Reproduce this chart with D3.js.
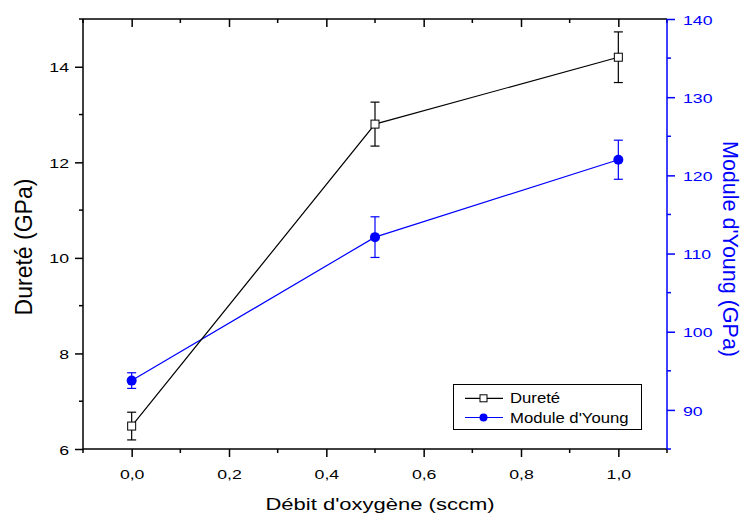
<!DOCTYPE html>
<html><head><meta charset="utf-8">
<script src="https://cdn.jsdelivr.net/npm/d3@7"></script>
<style>body{margin:0;background:#fff}svg{font-family:"Liberation Sans",Arial,sans-serif}</style>
</head><body><svg id="c" width="743" height="517"></svg>
<script>
const xValues = [0.0, 0.5, 1.0];
const durete = [6.48, 12.80, 14.20];
const dureteErr = [0.29, 0.46, 0.53];
const young = [93.75, 112.1, 122.0];
const youngErr = [1.0, 2.6, 2.5];
const xTicks = [0.0, 0.2, 0.4, 0.6, 0.8, 1.0];
const yLeftTicks = [6, 8, 10, 12, 14];
const yRightTicks = [90, 100, 110, 120, 130, 140];
const seriesNames = ["Dureté", "Module d'Young"];

const svg = d3.select("#c");
const L = 83, R = 667, T = 19, B = 449;
const blue = "#0000ff";
const FF = "Liberation Sans, Arial, sans-serif";
const SY = 0.77;
const x = d3.scaleLinear().domain([-0.1, 1.1]).range([L, R]);
const yl = d3.scaleLinear().domain([6, 15]).range([B, T]);
const yr = d3.scaleLinear().domain([85, 140]).range([B, T]);
const fmt = d => d3.format(".1f")(d).replace(".", ",");

const xMinor = d3.range(-1, 12).map(v => v / 10).filter(v => !xTicks.some(t => Math.abs(t - v) < 1e-6));
const ylMinor = [7, 9, 11, 13, 15];
const yrMinor = [85, 95, 105, 115, 125, 135];

function minor(g, vals, scale, orient, color) {
  g.selectAll("line.mn").data(vals).join("line").attr("class", "mn")
    .attr(orient === "h" ? "x1" : "y1", d => scale(d)).attr(orient === "h" ? "x2" : "y2", d => scale(d))
    .attr(orient === "h" ? "y1" : "x1", 0).attr(orient === "h" ? "y2" : "x2", orient === "h" ? 4 : (color === blue ? 4 : -4))
    .attr("stroke", color).attr("stroke-width", 1.5);
}

const gb = svg.append("g").attr("transform", `translate(0,${B})`)
  .call(d3.axisBottom(x).tickValues(xTicks).tickFormat(fmt).tickSize(8).tickSizeOuter(0));
minor(gb, xMinor, x, "h", "#000");
const gt = svg.append("g").attr("transform", `translate(0,${T})`)
  .call(d3.axisBottom(x).tickValues(xTicks).tickFormat("").tickSize(8).tickSizeOuter(0));
minor(gt, xMinor, x, "h", "#000");
const gl = svg.append("g").attr("transform", `translate(${L},0)`)
  .call(d3.axisLeft(yl).tickValues(yLeftTicks).tickFormat(d3.format("d")).tickSize(8).tickSizeOuter(0));
minor(gl, ylMinor, yl, "v", "#000");
const gr = svg.append("g").attr("transform", `translate(${R},0)`)
  .call(d3.axisRight(yr).tickValues(yRightTicks).tickFormat(d3.format("d")).tickSize(8).tickSizeOuter(0));
minor(gr, yrMinor, yr, "v", blue);

[gb, gt, gl, gr].forEach(g => {
  g.select(".domain").attr("stroke-width", 1.5);
  g.selectAll(".tick line").attr("stroke-width", 1.5);
  g.selectAll(".tick text").attr("font-size", 17.7).attr("font-family", FF).attr("dy", null).attr("fill", "#000");
});
gb.select(".domain").attr("d", `M${L},0H${R}`);
gt.select(".domain").attr("d", `M${L},0H${R}`);
gl.select(".domain").attr("d", `M0,${B}V${T}`);
gr.select(".domain").attr("d", `M0,${B}V${T}`);
gb.selectAll(".tick text").attr("y", 0).attr("x", 0).attr("transform", `translate(0,29.5) scale(1,${SY})`);
gl.selectAll(".tick text").attr("x", 0).attr("y", 0).attr("transform", `translate(-14,5) scale(1,${SY})`);
gr.selectAll(".tick text").attr("x", 0).attr("y", 0).attr("transform", `translate(16,5.2) scale(1,${SY})`);
gr.selectAll(".domain, .tick line").attr("stroke", blue);
gr.selectAll(".tick text").attr("fill", blue);

// titles
svg.append("text").attr("transform", `translate(380,510) scale(1,${SY})`).attr("text-anchor", "middle")
  .attr("font-size", 22).text("Débit d'oxygène (sccm)");
svg.append("text").attr("transform", `translate(32,247) rotate(-90)`).attr("text-anchor", "middle")
  .attr("font-size", 23).text("Dureté (GPa)");
svg.append("text").attr("transform", `translate(723,249) rotate(90)`).attr("text-anchor", "middle")
  .attr("font-size", 21.5).attr("fill", blue).text("Module d'Young (GPa)");

// error bars
function drawErr(vals, errs, ys, color) {
  const g = svg.append("g").attr("stroke", color).attr("stroke-width", 1.2);
  xValues.forEach((xv, i) => {
    const px = x(xv), t = ys(vals[i] + errs[i]), b = ys(vals[i] - errs[i]);
    g.append("line").attr("x1", px).attr("x2", px).attr("y1", t).attr("y2", b);
    g.append("line").attr("x1", px - 4.5).attr("x2", px + 4.5).attr("y1", t).attr("y2", t);
    g.append("line").attr("x1", px - 4.5).attr("x2", px + 4.5).attr("y1", b).attr("y2", b);
  });
}
drawErr(young, youngErr, yr, blue);
drawErr(durete, dureteErr, yl, "#000");

const line = (ys, vals) => d3.line().x((d, i) => x(xValues[i])).y(d => ys(d))(vals);
svg.append("path").attr("d", line(yr, young)).attr("fill", "none").attr("stroke", blue).attr("stroke-width", 1.2);
svg.append("path").attr("d", line(yl, durete)).attr("fill", "none").attr("stroke", "#000").attr("stroke-width", 1.2);

svg.selectAll("circle.y").data(young).join("circle").attr("cx", (d, i) => x(xValues[i])).attr("cy", d => yr(d)).attr("r", 5).attr("fill", blue);
svg.selectAll("rect.d").data(durete).join("rect").attr("x", (d, i) => x(xValues[i]) - 4).attr("y", d => yl(d) - 4).attr("width", 8).attr("height", 8).attr("fill", "#fff").attr("stroke", "#000").attr("stroke-width", 1);

// legend
const lg = svg.append("g");
lg.append("rect").attr("x", 453.5).attr("y", 384.5).attr("width", 188).attr("height", 45).attr("fill", "#fff").attr("stroke", "#000").attr("stroke-width", 1);
const entries = [{name: seriesNames[0], color: "#000", sym: "rect", cy: 398.3, by: 403.3}, {name: seriesNames[1], color: blue, sym: "circle", cy: 417.5, by: 422.7}];
entries.forEach(e => {
  lg.append("line").attr("x1", 465).attr("x2", 503).attr("y1", e.cy).attr("y2", e.cy).attr("stroke", e.color).attr("stroke-width", 1.2);
  if (e.sym === "rect") lg.append("rect").attr("x", 480).attr("y", e.cy - 3.5).attr("width", 7).attr("height", 7).attr("fill", "#fff").attr("stroke", "#000");
  else lg.append("circle").attr("cx", 483.5).attr("cy", e.cy).attr("r", 4).attr("fill", blue);
  lg.append("text").attr("transform", `translate(510,${e.by}) scale(1,0.92)`).attr("font-size", 16.7).text(e.name);
});
</script></body></html>
